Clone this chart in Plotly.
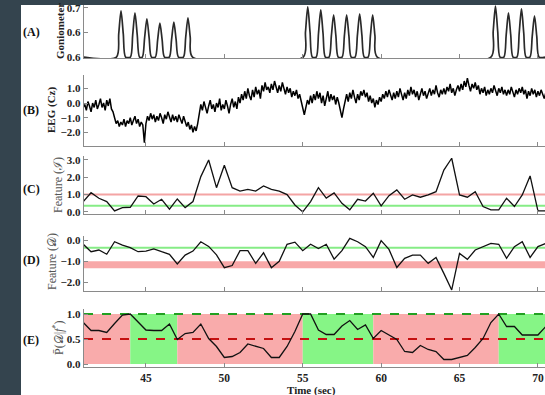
import plotly.graph_objects as go

# ---------------- data ----------------
# (A) goniometer: peak times (s) and peak heights; baseline 0.6
gonio_base = 0.6
peak_t = [43.41, 44.30, 45.06, 45.89, 46.78, 47.68,
          55.32, 56.15, 56.97, 57.80, 58.63, 59.46,
          67.29, 68.12, 68.95, 69.78]
peak_h = [0.694, 0.690, 0.678, 0.669, 0.671, 0.680,
          0.702, 0.696, 0.686, 0.686, 0.688, 0.686,
          0.704, 0.690, 0.698, 0.684]

# (B) EEG, one value every 0.1 s from 41.0 s
eeg_t0 = 41.0
eeg_dt = 0.1
eeg_v = [
    -0.3, -0.1, -0.5, 0.1, -0.2, -0.6, 0.0, -0.3, 0.2, -0.4,
    -0.1, 0.3, -0.3, 0.0, -0.5, 0.2, -0.2, 0.3, -0.4, -0.6,
    -1.0, -1.4, -1.2, -1.6, -1.3, -1.5, -1.1, -1.6, -1.2, -1.4,
    -1.0, -1.5, -1.2, -0.9, -1.4, -1.1, -1.6, -1.3, -1.5, -2.7,
    -1.4, -0.9, -1.2, -0.7, -1.1, -0.8, -1.3, -0.9, -1.2, -0.7,
    -1.0, -1.4, -0.8, -1.1, -0.6, -1.0, -1.3, -0.8, -1.2, -0.9,
    -1.3, -0.8, -1.1, -1.4, -0.9, -1.2, -1.6, -1.3, -1.8, -1.5,
    -2.0, -1.6, -1.9, -1.4, -0.6, -0.1, -0.5, 0.1, -0.3, -0.7,
    -0.2, 0.2, -0.4, -0.1, -0.6, 0.0, -0.3, 0.3, -0.5, -0.1,
    -0.4, 0.2, -0.2, -0.7, -0.1, 0.3, -0.3, 0.1, -0.4, 0.4,
    0.0, 0.6, 0.2, 0.8, 0.3, 1.0, 0.5, 0.2, 0.9, 0.4,
    1.1, 0.6, 0.9, 0.3, 1.2, 0.8, 1.4, 0.9, 1.1, 0.7,
    1.3, 0.9, 1.5, 1.0, 0.7, 1.2, 0.8, 1.4, 1.0, 0.6,
    1.1, 0.7, 1.0, 0.4, 0.8, 0.5, 0.9, 0.3, 0.6, 0.1,
    -0.4, -0.8, -0.3, 0.2, -0.1, 0.5, 0.0, 0.6, 0.2, 0.8,
    0.3, 0.7, 0.0, 0.5, -0.2, 0.4, 0.8, 0.1, 0.6, 0.2,
    0.5, -0.1, 0.4, 0.0, -0.6, -1.0, -0.4, 0.2, 0.6, 0.1,
    0.7, 0.3, 0.9, 0.4, 0.0, 0.6, 0.2, 0.8, 0.5, 0.9,
    0.4, 0.7, 0.1, 0.5, 0.0, 0.3, -0.3, 0.2, -0.1, 0.4,
    0.1, 0.6, 0.3, 0.8, 0.4, 0.9, 0.5, 0.2, 0.7, 0.3,
    0.8, 0.4, 1.0, 0.6, 0.2, 0.7, 0.3, 0.9, 0.5, 1.1,
    0.6, 0.9, 0.4, 0.8, 0.2, 0.6, 1.0, 0.5, 0.8, 0.3,
    0.7, 1.0, 0.5, 0.9, 0.6, 1.2, 0.7, 0.4, 0.9, 0.6,
    1.0, 0.6, 1.1, 0.8, 1.3, 0.7, 1.0, 0.5, 0.9, 1.2,
    0.8, 1.3, 0.9, 1.5, 1.1, 1.7, 1.2, 0.8, 1.3, 1.0,
    1.4, 0.9, 1.2, 0.6, 1.0, 0.7, 1.1, 0.5, 0.9, 0.6,
    1.0, 0.7, 1.2, 0.8, 0.5, 1.0, 0.7, 1.1, 0.6, 0.9,
    0.5, 0.9, 0.6, 1.1, 0.7, 0.4, 0.9, 0.6, 1.0, 0.7,
    1.1, 0.6, 0.9, 0.3, 0.8, 0.5, 1.0, 0.6, 0.9, 0.4,
    0.8, 0.5, 0.9, 0.6, 0.3, 0.7,
]

# (C)-(E) features, one value every 0.5 s from 41.0 s
feat_t0 = 41.0
feat_dt = 0.5
feat_I = [0.60, 1.11, 0.79, 0.60, 0.06, 0.25, 0.27, 0.92, 0.88, 0.46, 0.73, 0.16, 0.75, 0.25, 0.60,
          2.04, 3.00, 1.40, 2.70, 1.40, 1.20, 1.30, 1.20, 1.50, 1.30, 1.20, 1.00, 0.40, 0.00, 0.60,
          1.40, 0.80, 1.10, 0.50,
          0.12, 0.73, 0.63, 1.08, 0.35, 0.94, 1.27, 0.73, 0.98, 0.85, 0.98, 1.17, 2.42, 3.10, 0.98,
          0.85, 1.17, 0.31, 0.12, 0.12, 0.79, 0.31, 0.98, 2.08, 0.06, 0.06]
feat_D = [-0.20, -0.55, -0.47, -0.67, -0.08, -0.24, -0.36, -0.55, -0.52, -0.42, -0.55, -0.67, -1.13, -0.71,
          -0.52, -0.08, -0.30, -0.70, -1.30, -1.20, -0.50, -0.50, -1.10, -0.60, -1.30, -1.00, -0.20, -0.10,
          -0.50, -0.20, -0.40, -0.20, -0.90, -0.50,
          0.08, -0.08, -0.31, -0.82, -0.03, -0.44, -1.29, -0.86, -0.71, -0.71, -1.10, -0.82, -1.57, -2.35,
          -0.63, -0.91, -0.47, -0.31, -0.16, -0.20, -0.86, -0.31, -0.08, -0.82, -0.31, -0.16]
post_P = [0.83, 0.67, 0.67, 0.63, 0.81, 0.98, 1.00, 0.85, 0.68, 0.67, 0.67, 0.80, 0.49, 0.61, 0.63,
          0.80, 0.51, 0.35, 0.13, 0.15, 0.23, 0.40, 0.35, 0.31, 0.13, 0.13, 0.35, 0.65, 1.00, 1.00,
          0.68, 0.59, 0.59, 0.76, 0.87, 0.69, 0.78, 0.51, 0.67, 0.58, 0.49, 0.25, 0.23, 0.37, 0.29,
          0.25, 0.09, 0.09, 0.13, 0.17, 0.33, 0.51, 0.83, 1.00, 0.75, 0.75, 0.58, 0.58, 0.58, 0.75]

# thresholds
I_red, I_green = 1.0, 0.35
D_green = -0.36
D_band = (-1.0, -1.33)
P_hi, P_mid = 1.0, 0.5

# state segments for panel (E)
seg_start = [41.0, 44.0, 47.0, 55.0, 59.5, 67.5]
seg_end = [44.0, 47.0, 55.0, 59.5, 67.5, 71.0]
seg_state = ["red", "green", "red", "green", "red", "green"]

x_range = [41.05, 70.45]
x_ticks = [45, 50, 55, 60, 65, 70]

# ---------------- figure ----------------
eeg_t = [eeg_t0 + i * eeg_dt for i in range(len(eeg_v))]
feat_t = [feat_t0 + i * feat_dt for i in range(len(feat_I))]

# goniometer curve: baseline, rising shoulder, apex, falling shoulder, baseline per peak
gonio_t, gonio_v = [x_range[0]], [gonio_base]
half_w = 0.29
for c, h in zip(peak_t, peak_h):
    mid = gonio_base + 0.5 * (h - gonio_base)
    gonio_t += [c - half_w, c - half_w / 2, c, c + half_w / 2, c + half_w]
    gonio_v += [gonio_base, mid, h, mid, gonio_base]
gonio_t.append(x_range[1])
gonio_v.append(gonio_base)

W, H = 545, 395
ML, MR, MT, MB = 84, 0, 5, 28
PW, PH = W - ML - MR, H - MT - MB


def px_x(px):
    return (px - ML) / PW


def px_y(py):
    return (H - MB - py) / PH


SERIF = "Liberation Serif, Times New Roman, DejaVu Serif, serif"
GRAY = "#8a8a8a"
fig = go.Figure()

fig.add_trace(go.Scatter(x=gonio_t, y=gonio_v, mode="lines",
                         line=dict(color="#2a2a2a", width=1.7, shape="spline", smoothing=0.8),
                         xaxis="x", yaxis="y", hoverinfo="skip"))
fig.add_trace(go.Scatter(x=eeg_t, y=eeg_v, mode="lines", line=dict(color="black", width=1.5),
                         xaxis="x2", yaxis="y2", hoverinfo="skip"))

# (C)
fig.add_trace(go.Scatter(x=x_range, y=[I_red, I_red], mode="lines", line=dict(color="#f4a4a4", width=2),
                         xaxis="x3", yaxis="y3", hoverinfo="skip"))
fig.add_trace(go.Scatter(x=x_range, y=[I_green, I_green], mode="lines", line=dict(color="#86ec86", width=2),
                         xaxis="x3", yaxis="y3", hoverinfo="skip"))
fig.add_trace(go.Scatter(x=feat_t, y=feat_I, mode="lines", line=dict(color="#111", width=1.3),
                         xaxis="x3", yaxis="y3", hoverinfo="skip"))

# (D)
fig.add_trace(go.Scatter(x=x_range + x_range[::-1], y=[D_band[0], D_band[0], D_band[1], D_band[1]], mode="lines",
                         fill="toself", fillcolor="#f8a8a8", line=dict(width=0), xaxis="x4", yaxis="y4",
                         hoverinfo="skip"))
fig.add_trace(go.Scatter(x=x_range, y=[D_green, D_green], mode="lines", line=dict(color="#86ec86", width=2),
                         xaxis="x4", yaxis="y4", hoverinfo="skip"))
fig.add_trace(go.Scatter(x=feat_t, y=feat_D, mode="lines", line=dict(color="#111", width=1.3),
                         xaxis="x4", yaxis="y4", hoverinfo="skip"))

# (E)
for s, e, st in zip(seg_start, seg_end, seg_state):
    col = "#f9abab" if st == "red" else "#86f586"
    fig.add_trace(go.Scatter(x=[s, e, e, s], y=[0, 0, P_hi, P_hi], mode="lines", fill="toself", fillcolor=col,
                             line=dict(width=0), xaxis="x5", yaxis="y5", hoverinfo="skip"))
fig.add_trace(go.Scatter(x=x_range, y=[P_hi, P_hi], mode="lines", line=dict(color="#22a022", width=2, dash="dash"),
                         xaxis="x5", yaxis="y5", hoverinfo="skip"))
fig.add_trace(go.Scatter(x=x_range, y=[P_mid, P_mid], mode="lines", line=dict(color="#c41010", width=2, dash="dash"),
                         xaxis="x5", yaxis="y5", hoverinfo="skip"))
fig.add_trace(go.Scatter(x=feat_t, y=post_P, mode="lines", line=dict(color="#111", width=1.3),
                         xaxis="x5", yaxis="y5", hoverinfo="skip"))

domains = [
    [px_y(58), px_y(5)],
    [px_y(146), px_y(75)],
    [px_y(214), px_y(156)],
    [px_y(291), px_y(236)],
    [px_y(367), px_y(309)],
]
yranges = [[0.598, 0.706], [-2.93, 1.91], [-0.12, 3.23], [-2.4, 0.19], [-0.06, 1.1]]
yticks = [[0.6, 0.65, 0.7], [-2, -1, 0, 1], [0, 1, 2, 3], [-2, -1, 0], [0, 0.5, 1]]
ytext = [["0.6", "0.6", "0.7"], ["\u22122.0", "\u22121.0", "0.0", "1.0"], ["0.0", "1.0", "2.0", "3.0"],
         ["\u22122.0", "\u22121.0", "0.0"], ["0.0", "0.5", "1.0"]]

tickfont = dict(family=SERIF, size=11, color="#222", weight="bold")
layout = dict(width=W, height=H, margin=dict(l=ML, r=MR, t=MT, b=MB, autoexpand=False), paper_bgcolor="white",
              plot_bgcolor="white", showlegend=False)
for i in range(5):
    n = "" if i == 0 else str(i + 1)
    layout["xaxis" + n] = dict(range=x_range, domain=[0, 1], anchor="y" + n, tickvals=x_ticks, automargin=False,
                               showticklabels=(i == 4), ticks="inside", ticklen=4, tickcolor=GRAY,
                               showline=True, linecolor=GRAY, linewidth=1.2, showgrid=False, zeroline=False,
                               ticklabelstandoff=0,
                               tickfont=dict(family=SERIF, size=11.5, color="#222", weight="bold"))
    layout["yaxis" + n] = dict(range=yranges[i], domain=domains[i], anchor="x" + n, tickvals=yticks[i],
                               automargin=False, ticktext=ytext[i], ticks="inside", ticklen=4, tickcolor=GRAY,
                               showline=True, linecolor=GRAY, linewidth=1.2, showgrid=False, zeroline=False,
                               tickfont=tickfont)
fig.update_layout(**layout)

fig.add_annotation(text="Time (sec)", x=px_x(311), y=px_y(390), xref="paper", yref="paper", xanchor="center",
                   yanchor="middle", showarrow=False,
                   font=dict(family=SERIF, size=11, color="#222", weight="bold"))

# panel labels and y titles
labels = ["(A)", "(B)", "(C)", "(D)", "(E)"]
label_y = [32, 110, 189, 260, 340]
for lab, ly in zip(labels, label_y):
    fig.add_annotation(text=lab, x=px_x(21), y=px_y(ly), xref="paper", yref="paper", xanchor="left",
                       yanchor="middle", showarrow=False,
                       font=dict(family=SERIF, size=12, color="#111", weight="bold"))

titles = ["Goniometer", "EEG (Cz)", "Feature (\u2110)", "Feature (\U0001D49F)",
          "P\u0304(\U0001D49F|<i>f</i><sup>*</sup>)"]
title_x = [60, 51, 58, 52, 58]
title_y = [31, 110, 185, 262, 338]
title_bold = [True, True, False, False, False]
for t, tx, ty, b in zip(titles, title_x, title_y, title_bold):
    fig.add_annotation(text=t, x=px_x(tx), y=px_y(ty), xref="paper", yref="paper", xanchor="center",
                       yanchor="middle", textangle=-90, showarrow=False,
                       font=dict(family=SERIF, size=11 if b else 12, color="#222" if b else "#555",
                                 weight="bold" if b else "normal"))

# dark page frame on the left and top
DARK = "#34444e"
fig.add_shape(type="rect", xref="paper", yref="paper", x0=px_x(0), x1=px_x(21), y0=px_y(H), y1=px_y(0),
              fillcolor=DARK, line=dict(width=0), layer="above")
fig.add_shape(type="rect", xref="paper", yref="paper", x0=px_x(0), x1=px_x(W), y0=px_y(5), y1=px_y(0),
              fillcolor=DARK, line=dict(width=0), layer="above")

fig.write_html("out.html", config={"displayModeBar": False, "staticPlot": True},
               post_script="document.body.style.margin='0';document.body.style.overflow='hidden';")
